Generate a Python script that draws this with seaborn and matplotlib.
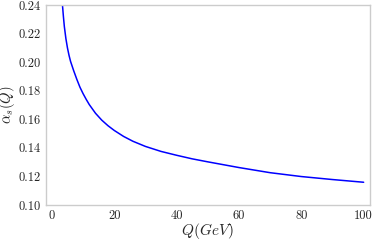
import numpy as np
import pandas as pd
import matplotlib
matplotlib.use("Agg")
import matplotlib.pyplot as plt
import seaborn as sns

# running coupling
Q = [3.0, 3.4, 3.7, 4.0, 4.5, 5.0, 5.5, 6.0, 7.0, 8.0, 9.0, 10, 11, 12,
     14, 16, 18, 20, 23, 26, 30, 35, 40, 45, 50, 60, 70, 80, 90, 100]
alpha_s = [0.252, 0.240, 0.232, 0.225, 0.2165, 0.210, 0.2048, 0.2005,
           0.1940, 0.1880, 0.1825, 0.1780, 0.1740, 0.1703, 0.1642, 0.1594,
           0.1555, 0.1522, 0.1480, 0.1446, 0.1410, 0.1375, 0.1348, 0.1323,
           0.1302, 0.1262, 0.1226, 0.1199, 0.1178, 0.1159]
xticks = [0, 20, 40, 60, 80, 100]
yticks = [0.10, 0.12, 0.14, 0.16, 0.18, 0.20, 0.22, 0.24]

sns.set_style("whitegrid")
plt.rcParams['font.family'] = 'serif'
plt.rcParams['font.serif'] = ['cmr10']
plt.rcParams['mathtext.fontset'] = 'cm'
plt.rcParams['axes.formatter.use_mathtext'] = True

df = pd.DataFrame({'Q': Q, 'alpha': alpha_s})

fig = plt.figure(figsize=(3.74, 2.40), dpi=100)
ax = fig.add_axes([0.122, 0.146, 0.867, 0.833])
sns.lineplot(x='Q', y='alpha', data=df, ax=ax, color='#0000ff', linewidth=1.1)
ax.grid(False)
ax.set_xlim(-2, 102)
ax.set_ylim(0.10, 0.24)
ax.set_xticks(xticks)
ax.set_yticks(yticks)
ax.set_xticklabels([str(t) for t in xticks])
ax.set_yticklabels(['%.2f' % t for t in yticks])
ax.tick_params(length=2, width=0.8, color='.8', labelsize=9, pad=1.5,
               labelcolor='.15')
for s in ax.spines.values():
    s.set_color('.8')
    s.set_linewidth(1.0)
ax.set_xlabel(r'$Q(GeV)$', fontsize=11, labelpad=-1, color='.15')
ax.set_ylabel(r'$\alpha_s(Q)$', fontsize=10.5, color='.15')
ax.yaxis.set_label_coords(-0.088, 0.5)

fig.savefig('out.png', dpi=100)
